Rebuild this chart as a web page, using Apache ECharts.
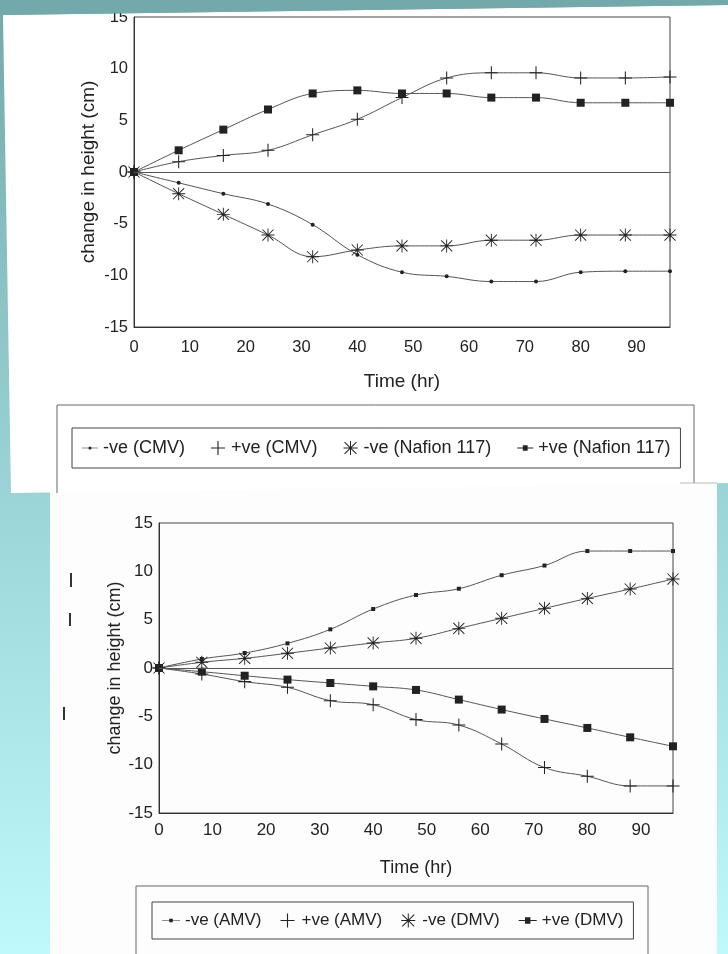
<!DOCTYPE html>
<html>
<head>
<meta charset="utf-8">
<script src="https://cdn.jsdelivr.net/npm/echarts@6/dist/echarts.min.js"></script>
<style>
  html, body {
    margin: 0;
    padding: 0;
  }
  body {
    width: 728px;
    height: 954px;
    background: linear-gradient(to bottom, #74a9ab 0%, #9ad3d5 50%, #bff9fb 100%);
    overflow: hidden;
  }
  #chart {
    width: 728px;
    height: 954px;
  }
</style>
</head>
<body>
<div id="chart"></div>
<script>
// time in hours, same for both panels
var hours = [0, 8, 16, 24, 32, 40, 48, 56, 64, 72, 80, 88, 96];

// top panel: CMV / Nafion 117
var cmvNeg = [0, -1.05, -2.1, -3.1, -5.1, -8.0, -9.7, -10.1, -10.6, -10.6, -9.7, -9.6, -9.6];
var cmvPos = [0, 1.0, 1.6, 2.1, 3.6, 5.1, 7.2, 9.1, 9.6, 9.6, 9.1, 9.1, 9.2];
var nafNeg = [0, -2.1, -4.1, -6.1, -8.2, -7.55, -7.15, -7.15, -6.6, -6.6, -6.1, -6.1, -6.1];
var nafPos = [0, 2.1, 4.1, 6.05, 7.6, 7.9, 7.6, 7.6, 7.2, 7.2, 6.7, 6.7, 6.7];

// bottom panel: AMV / DMV
var amvNeg = [0, 0.93, 1.55, 2.55, 4.0, 6.1, 7.55, 8.2, 9.6, 10.6, 12.1, 12.1, 12.1];
var amvPos = [0, -0.62, -1.41, -2.0, -3.38, -3.8, -5.34, -5.9, -7.86, -10.3, -11.2, -12.2, -12.2];
var dmvNeg = [0, 0.59, 1.0, 1.52, 2.07, 2.59, 3.07, 4.1, 5.14, 6.17, 7.2, 8.17, 9.2];
var dmvPos = [0, -0.38, -0.8, -1.2, -1.55, -1.9, -2.27, -3.27, -4.3, -5.27, -6.2, -7.17, -8.1];

var topNames = ["-ve (CMV)", "+ve (CMV)", "-ve (Nafion 117)", "+ve (Nafion 117)"];
var bottomNames = ["-ve (AMV)", "+ve (AMV)", "-ve (DMV)", "+ve (DMV)"];

// marker shapes
var plusPath = "path://M9.2,0H10.8V20H9.2Z M0,9.2H20V10.8H0Z";
var starPath = "path://M9.3,0H10.7V20H9.3Z M0,9.3H20V10.7H0Z M1,2L2,1L19,18L18,19Z M18,1L19,2L2,19L1,18Z";
// legend icons: short line with a small mark
var dotIcon = "path://M0,1.6H20V2.4H0Z M10,0A2,2 0 1,1 10,4A2,2 0 1,1 10,0Z";
var smallSqIcon = "path://M0,1.6H20V2.4H0Z M8,0H12V4H8Z";
var squareIcon = "path://M0,3H20V4H0Z M7,0H13V7H7Z";

var font = "Liberation Sans";
var ink = "#222";
var lineGray = "#555";

function pairs(ys) {
  return hours.map(function (h, i) { return [h, ys[i]]; });
}

function lineSeries(name, ys, idx, symbol, size) {
  return {
    name: name,
    type: "line",
    xAxisIndex: idx,
    yAxisIndex: idx,
    data: pairs(ys),
    smooth: 0.4,
    symbol: symbol,
    symbolSize: size,
    showAllSymbol: true,
    lineStyle: { color: lineGray, width: 1 },
    itemStyle: { color: ink },
    z: 3,
  };
}

function zeroLine() {
  return {
    silent: true,
    symbol: "none",
    label: { show: false },
    lineStyle: { color: lineGray, width: 1, type: "solid" },
    data: [{ yAxis: 0 }],
  };
}

function xAxisFor(idx, size, nameSize, margin, gap) {
  return {
    type: "value",
    gridIndex: idx,
    min: 0,
    max: 96,
    interval: 10,
    name: "Time (hr)",
    nameLocation: "middle",
    nameGap: gap,
    nameMoveOverlap: false,
    nameTextStyle: { fontFamily: font, fontSize: nameSize, color: ink },
    axisLine: { show: true, onZero: false, lineStyle: { color: "#333" } },
    axisTick: { show: false },
    splitLine: { show: false },
    axisLabel: { showMaxLabel: false, margin: margin, fontFamily: font, fontSize: size, color: ink },
  };
}

function yAxisFor(idx, size, nameSize, gap) {
  return {
    type: "value",
    gridIndex: idx,
    min: -15,
    max: 15,
    interval: 5,
    name: "change in height (cm)",
    nameLocation: "middle",
    nameGap: gap,
    nameMoveOverlap: false,
    nameTextStyle: { fontFamily: font, fontSize: nameSize, color: ink },
    axisLine: { show: true, lineStyle: { color: "#333" } },
    axisTick: { show: false },
    splitLine: { show: false },
    axisLabel: { margin: 6, fontFamily: font, fontSize: size, color: ink },
  };
}

function legendItems(names, firstIcon, lastIcon) {
  return [
    { name: names[0], icon: firstIcon },
    { name: names[1], icon: plusPath },
    { name: names[2], icon: starPath },
    { name: names[3], icon: lastIcon },
  ];
}

var s1 = lineSeries(topNames[0], cmvNeg, 0, "circle", 4);
s1.markLine = zeroLine();
var s5 = lineSeries(bottomNames[0], amvNeg, 1, "rect", 4);
s5.markLine = zeroLine();

var chart = echarts.init(document.getElementById("chart"));
chart.setOption({
  animation: false,
  grid: [
    { left: 134, top: 17, width: 536, height: 310, show: true, borderColor: "#444", borderWidth: 1 },
    { left: 159, top: 523, width: 514, height: 290, show: true, borderColor: "#444", borderWidth: 1 },
  ],
  xAxis: [xAxisFor(0, 16.5, 19, 12, 45), xAxisFor(1, 17, 18, 9, 46)],
  yAxis: [yAxisFor(0, 16.5, 19, 36), yAxisFor(1, 17, 18, 35)],
  legend: [
    {
      data: legendItems(topNames, dotIcon, squareIcon),
      left: 72,
      top: 428,
      padding: [11, 10],
      itemGap: 26,
      itemWidth: 16,
      itemHeight: 14,
      borderColor: "#444",
      borderWidth: 1,
      textStyle: { fontFamily: font, fontSize: 18, color: ink },
    },
    {
      data: legendItems(bottomNames, smallSqIcon, squareIcon),
      left: 152,
      top: 902,
      padding: [10, 10],
      itemGap: 19,
      itemWidth: 18,
      itemHeight: 14,
      borderColor: "#444",
      borderWidth: 1,
      textStyle: { fontFamily: font, fontSize: 17, color: ink },
    },
  ],
  graphic: [
    // white paper of the lower scan
    { type: "rect", z: -10, shape: { x: 50, y: 470, width: 667, height: 490 }, style: { fill: "#fdfdfd" } },
    // white paper of the upper scan, slightly tilted
    { type: "polygon", z: -9, shape: { points: [[3, 15], [728, 5], [728, 483], [11, 493]] }, style: { fill: "#ffffff" } },
    // teal strip over the top that clips the "15" label
    { type: "polygon", z: 100, shape: { points: [[0, 0], [728, 0], [728, 5], [3, 15], [0, 15]] }, style: { fill: "#74a9ab" } },
    // outer legend frames
    { type: "polyline", z: 1, shape: { points: [[57, 493], [57, 405], [694, 405], [694, 483]] }, style: { stroke: "#666", lineWidth: 1, fill: null } },
    { type: "polyline", z: 1, shape: { points: [[136, 954], [136, 886], [648, 886], [648, 954]] }, style: { stroke: "#666", lineWidth: 1, fill: null } },
    { type: "line", z: 1, shape: { x1: 680, y1: 483, x2: 717, y2: 483 }, style: { stroke: "#bbb", lineWidth: 1 } },
    // stray pen marks left of the lower plot
    { type: "line", z: 1, shape: { x1: 71, y1: 573, x2: 71, y2: 587 }, style: { stroke: "#333", lineWidth: 2 } },
    { type: "line", z: 1, shape: { x1: 70, y1: 613, x2: 70, y2: 626 }, style: { stroke: "#333", lineWidth: 2 } },
    { type: "line", z: 1, shape: { x1: 64, y1: 707, x2: 64, y2: 720 }, style: { stroke: "#333", lineWidth: 2 } },
  ],
  series: [
    s1,
    lineSeries(topNames[1], cmvPos, 0, plusPath, 13),
    lineSeries(topNames[2], nafNeg, 0, starPath, 13),
    lineSeries(topNames[3], nafPos, 0, "rect", 8),
    s5,
    lineSeries(bottomNames[1], amvPos, 1, plusPath, 13),
    lineSeries(bottomNames[2], dmvNeg, 1, starPath, 13),
    lineSeries(bottomNames[3], dmvPos, 1, "rect", 8),
  ],
});
</script>
</body>
</html>
